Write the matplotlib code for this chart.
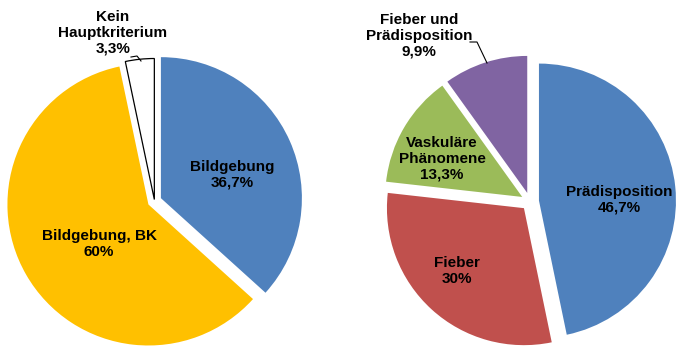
import matplotlib
matplotlib.use("Agg")
import matplotlib.pyplot as plt

plt.rcParams['font.family'] = ['Liberation Sans', 'DejaVu Sans']

# ---- data ----
left_labels = ["Bildgebung", "Bildgebung, BK", "Kein\nHauptkriterium"]
left_values = [36.7, 60.0, 3.3]
left_colors = ["#4F81BD", "#FFC000", "#FFFFFF"]

right_labels = ["Prädisposition", "Fieber", "Vaskuläre\nPhänomene", "Fieber und\nPrädisposition"]
right_values = [46.7, 30.0, 13.3, 9.9]
right_colors = ["#4F81BD", "#C0504D", "#9BBB59", "#8064A2"]


def fmt(v):
    s = f"{v:.1f}"
    if s.endswith(".0"):
        s = s[:-2]
    return s.replace(".", ",") + "%"


W, H = 684, 359
fig = plt.figure(figsize=(W / 100, H / 100), dpi=100)
ax = fig.add_axes([0, 0, 1, 1])

# layout (pixel coordinates, y from top)
left_center = (154.5, 201)
left_radius = 141
right_center = (530, 201.5)
right_radius = 137

wl, _ = ax.pie(left_values, colors=left_colors, startangle=90, counterclock=False,
               center=(left_center[0], H - left_center[1]), radius=left_radius,
               explode=[7, 7, 1.5], frame=True,
               wedgeprops=dict(linewidth=0))
wl[2].set_edgecolor("black")
wl[2].set_linewidth(0.9)

wr, _ = ax.pie(right_values, colors=right_colors, startangle=90, counterclock=False,
               center=(right_center[0], H - right_center[1]), radius=right_radius,
               explode=[9] * len(right_values), frame=True,
               wedgeprops=dict(linewidth=0))

ax.set_xlim(0, W)
ax.set_ylim(0, H)
ax.set_aspect('equal')
ax.axis('off')

left_text_pos = [(232, 175), (99, 244), (113, 33)]
right_text_pos = [(619, 200), (457, 271), (442, 159), (419, 36)]

for lab, v, (x, y) in zip(left_labels, left_values, left_text_pos):
    ax.text(x, H - y, f"{lab}\n{fmt(v)}", ha="center", va="center",
            fontsize=11, fontweight="bold", color="black", linespacing=1.15)
for lab, v, (x, y) in zip(right_labels, right_values, right_text_pos):
    ax.text(x, H - y, f"{lab}\n{fmt(v)}", ha="center", va="center",
            fontsize=11, fontweight="bold", color="black", linespacing=1.15)

# leader lines
lx = [131, 137, 141]
ly = [57, 56, 61]
ax.plot(lx, [H - y for y in ly], color="black", lw=0.8)
rx = [470, 477, 487]
ry = [42, 42, 63]
ax.plot(rx, [H - y for y in ry], color="black", lw=0.8)

fig.savefig("out.png", dpi=100)
